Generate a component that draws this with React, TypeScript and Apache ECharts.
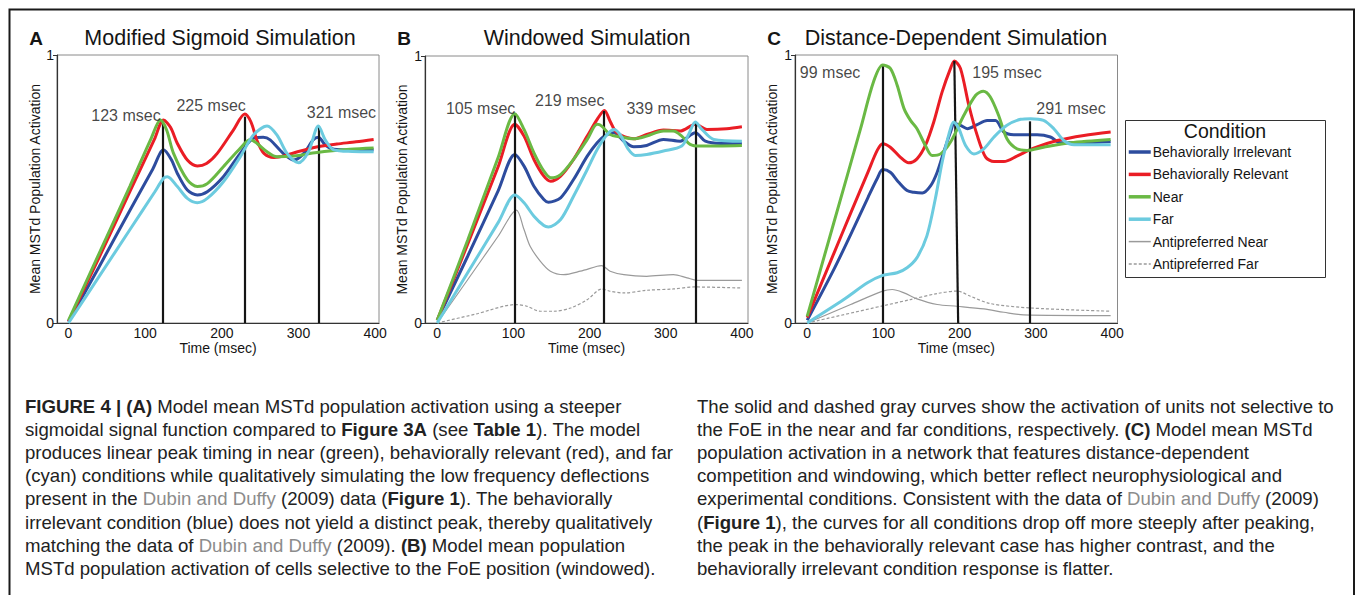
import React, { useEffect, useRef } from 'react';
import * as echarts from 'echarts';

// ---------- names / colours ----------
const SERIES_NAMES = ['Behaviorally Irrelevant', 'Behaviorally Relevant', 'Near', 'Far', 'Antipreferred Near', 'Antipreferred Far'];
const COLORS = ['#2d4c9e', '#ea1d25', '#6ab944', '#6ccbdf', '#9a9a9a', '#9a9a9a'];
const X_TICKS = [0, 100, 200, 300, 400];
const Y_TICKS = [0, 1];
const PANEL_TITLES = ['Modified Sigmoid Simulation', 'Windowed Simulation', 'Distance-Dependent Simulation'];
const PANEL_LETTERS = ['A', 'B', 'C'];

// ---------- Panel A (time msec, activation) ----------
const A_IRR = [[0,0.005],[40,0.21],[80,0.42],[110,0.575],[124,0.646],[134,0.61],[142,0.558],[155,0.496],[168,0.478],[181,0.49],[202,0.546],[224,0.633],[241,0.689],[254,0.693],[263,0.683],[280,0.633],[294,0.608],[307,0.633],[319,0.683],[326,0.693],[335,0.664],[346,0.648],[370,0.645],[398,0.646]];
const A_REL = [[0,0.005],[40,0.245],[80,0.49],[112,0.685],[124,0.757],[133,0.73],[142,0.67],[155,0.608],[168,0.586],[180,0.595],[194,0.633],[215,0.72],[230,0.78],[238,0.75],[246,0.68],[255,0.633],[268,0.618],[281,0.623],[300,0.64],[325,0.658],[350,0.668],[375,0.676],[398,0.685]];
const A_NEAR = [[0,0.01],[40,0.26],[80,0.51],[108,0.69],[120,0.757],[128,0.72],[137,0.633],[155,0.534],[168,0.509],[181,0.52],[202,0.583],[224,0.652],[237,0.685],[246,0.67],[259,0.639],[272,0.62],[294,0.623],[324,0.636],[367,0.648],[398,0.653]];
const A_FAR = [[0,0],[40,0.174],[80,0.348],[112,0.487],[124,0.54],[129,0.546],[142,0.509],[155,0.465],[168,0.449],[181,0.465],[202,0.527],[224,0.62],[241,0.701],[259,0.735],[272,0.701],[285,0.633],[300,0.598],[313,0.639],[326,0.735],[335,0.683],[346,0.646],[370,0.64],[398,0.639]];
const A_VLINES = [[122.5,0.751],[230.5,0.77],[326,0.733]];
const A_NOTES = [['123 msec',75,0.776],['225 msec',186,0.81],['321 msec',356,0.787]];

// ---------- Panel B ----------
const B_IRR = [[0,0.01],[40,0.25],[80,0.495],[102,0.631],[114,0.5875],[127,0.5125],[140,0.4625],[146,0.4525],[162,0.469],[179,0.5375],[197,0.625],[210,0.675],[219.5,0.7],[232,0.7125],[245,0.681],[258,0.66],[275,0.665],[297,0.6875],[319,0.681],[339,0.7125],[352,0.681],[372,0.6725],[400,0.6725]];
const B_REL = [[0,0.01],[40,0.295],[80,0.585],[102,0.744],[114,0.7],[127,0.6125],[140,0.55],[149,0.531],[162,0.55],[179,0.6125],[197,0.7],[210,0.7625],[219.5,0.796],[227,0.756],[236,0.7125],[258,0.69],[275,0.706],[297,0.7225],[319,0.719],[339,0.744],[354,0.725],[380,0.7275],[400,0.735]];
const B_NEAR = [[0,0.01],[40,0.31],[80,0.62],[102,0.784],[114,0.725],[127,0.6375],[140,0.569],[149,0.544],[162,0.556],[179,0.6125],[197,0.6875],[210,0.744],[216,0.7375],[227,0.706],[240,0.6975],[258,0.69],[275,0.7],[297,0.719],[310,0.719],[321,0.7],[332,0.669],[345,0.6625],[400,0.665]];
const B_FAR = [[0,0],[40,0.188],[80,0.376],[102,0.479],[114,0.45],[127,0.4],[140,0.365],[146,0.36],[162,0.3875],[179,0.475],[197,0.575],[210,0.65],[223,0.706],[232,0.725],[240,0.706],[251,0.65],[260,0.6275],[275,0.631],[297,0.644],[321,0.6625],[330,0.706],[339,0.7525],[347.5,0.725],[363,0.6875],[400,0.681]];
const B_ANTI_NEAR = [[0,0],[40,0.162],[80,0.325],[104,0.4225],[114,0.35],[122,0.2875],[135.5,0.231],[148.6,0.194],[166,0.181],[188,0.194],[210,0.2125],[216,0.215],[227,0.194],[245,0.181],[275,0.175],[310,0.181],[328,0.169],[341,0.16],[400,0.16]];
const B_ANTI_FAR = [[0,0],[50,0.033],[104,0.069],[118,0.0625],[135.5,0.044],[153,0.044],[175,0.056],[197,0.0875],[216,0.1275],[227,0.119],[245,0.1125],[275,0.1225],[310,0.1275],[337,0.135],[400,0.131]];
const B_VLINES = [[102,0.781],[219,0.794],[340,0.75]];
const B_NOTES = [['105 msec',57,0.802],['219 msec',174,0.832],['339 msec',294,0.802]];

// ---------- Panel C ----------
const C_IRR = [[0,0.01],[35,0.2],[57,0.33],[80,0.47],[92,0.54],[99,0.5725],[109,0.5625],[120,0.525],[131,0.494],[140,0.4875],[151,0.485],[162,0.5125],[170.5,0.5625],[179,0.6375],[188,0.7125],[193,0.744],[201,0.7375],[210,0.725],[223,0.74],[236,0.756],[247,0.756],[258,0.7125],[271,0.7025],[301.6,0.7025],[319,0.694],[332,0.6725],[363,0.6725],[398,0.6775]];
const C_REL = [[0,0.02],[35,0.26],[57,0.41],[80,0.565],[92,0.645],[99,0.669],[109,0.656],[122,0.619],[133,0.5975],[144,0.6125],[155,0.6625],[166,0.75],[177,0.8625],[188,0.95],[193,0.9775],[201,0.95],[212,0.8125],[223,0.7],[234,0.619],[245,0.6025],[258,0.6025],[275,0.6225],[297,0.6525],[328,0.681],[363,0.7],[398,0.7125]];
const C_NEAR = [[0,0.025],[35,0.375],[70,0.725],[87,0.9],[99,0.9625],[109,0.95],[118,0.8875],[127,0.8],[135.5,0.756],[144,0.725],[155,0.6625],[164,0.625],[175,0.631],[188,0.675],[205.5,0.775],[221,0.85],[231,0.865],[240,0.844],[251,0.775],[262,0.6875],[275,0.65],[288.5,0.644],[310,0.656],[345,0.6725],[398,0.685]];
const C_FAR = [[0,0],[48,0.0875],[79,0.15],[99,0.1775],[118,0.1875],[131,0.206],[144,0.244],[157,0.325],[168,0.4625],[177,0.6],[186,0.706],[192,0.75],[199,0.725],[207.7,0.6625],[218.6,0.631],[231.7,0.65],[245,0.694],[262,0.7375],[280,0.76],[293,0.7625],[310,0.756],[323.5,0.725],[336.6,0.681],[350,0.665],[398,0.665]];
const C_ANTI_NEAR = [[0,0],[57,0.069],[99,0.119],[111.5,0.125],[127,0.1125],[144,0.09],[170.5,0.069],[196.7,0.0625],[231.7,0.0525],[258,0.04],[284,0.03],[398,0.0275]];
const C_ANTI_FAR = [[0,0],[100.5,0.065],[135.5,0.0875],[170.5,0.11],[196.7,0.119],[214,0.1],[240,0.0725],[293,0.056],[398,0.044]];
const C_VLINES = [[99,0.9625],[193,0.9775,198],[292,0.7525]];
const C_NOTES = [['99 msec',30,0.933],['195 msec',262,0.933],['291 msec',346,0.802]];

// ---------- caption ----------
const CAPTION_LEFT = [
  '{b|FIGURE 4 | (A)} Model mean MSTd population activation using a steeper',
  'sigmoidal signal function compared to {b|Figure 3A} (see {b|Table 1}). The model',
  'produces linear peak timing in near (green), behaviorally relevant (red), and far',
  '(cyan) conditions while qualitatively simulating the low frequency deflections',
  'present in the {g|Dubin and Duffy} (2009) data ({b|Figure 1}). The behaviorally',
  'irrelevant condition (blue) does not yield a distinct peak, thereby qualitatively',
  'matching the data of {g|Dubin and Duffy} (2009). {b|(B)} Model mean population',
  'MSTd population activation of cells selective to the FoE position (windowed).',
];
const CAPTION_RIGHT = [
  'The solid and dashed gray curves show the activation of units not selective to',
  'the FoE in the near and far conditions, respectively. {b|(C)} Model mean MSTd',
  'population activation in a network that features distance-dependent',
  'competition and windowing, which better reflect neurophysiological and',
  'experimental conditions. Consistent with the data of {g|Dubin and Duffy} (2009)',
  '({b|Figure 1}), the curves for all conditions drop off more steeply after peaking,',
  'the peak in the behaviorally relevant case has higher contrast, and the',
  'behaviorally irrelevant condition response is flatter.',
];

const PANELS = [
  { curves: [A_IRR, A_REL, A_NEAR, A_FAR], vlines: A_VLINES, notes: A_NOTES },
  { curves: [B_IRR, B_REL, B_NEAR, B_FAR, B_ANTI_NEAR, B_ANTI_FAR], vlines: B_VLINES, notes: B_NOTES },
  { curves: [C_IRR, C_REL, C_NEAR, C_FAR, C_ANTI_NEAR, C_ANTI_FAR], vlines: C_VLINES, notes: C_NOTES },
];

// layout (pixels)
const GRIDS = [
  { left: 57, top: 55, width: 322, height: 268 },
  { left: 425, top: 56, width: 323, height: 267 },
  { left: 795, top: 55, width: 322.5, height: 268 },
];
const X_RANGES = [[-15, 405], [-16, 408], [-16, 407]];
const Y_NAME_GAPS = [13, 16, 16];
const TITLE_POS = [[220, 38], [587, 38], [956, 38]];
const LETTER_POS = [[36, 38], [404, 38], [774, 38]];

const FONT = '"Liberation Sans", Arial, Helvetica, sans-serif';
const INK = '#151515';
const CAP_SIZE = 18.6;

function buildOption() {
  const series: any[] = [];
  PANELS.forEach((p, i) => {
    p.curves.forEach((data, k) => {
      const gray = k >= 4;
      series.push({
        type: 'line',
        name: SERIES_NAMES[k],
        xAxisIndex: i,
        yAxisIndex: i,
        data,
        symbol: 'none',
        showSymbol: false,
        smooth: 0.3,
        silent: true,
        z: gray ? 2 : 3 + k,
        itemStyle: { color: COLORS[k] },
        lineStyle: { color: COLORS[k], width: gray ? 1.2 : 3, type: k === 5 ? [3, 2] : 'solid' },
      });
    });
    series.push({
      type: 'scatter',
      name: 'notes' + i,
      xAxisIndex: i,
      yAxisIndex: i,
      symbolSize: 1,
      silent: true,
      z: 20,
      itemStyle: { color: 'rgba(0,0,0,0)' },
      data: p.notes.map(([txt, t, v]) => ({ value: [t, v], label: { formatter: txt as string } })),
      label: { show: true, position: 'inside', fontSize: 16, color: INK, fontFamily: FONT },
      markLine: {
        silent: true,
        symbol: ['none', 'none'],
        label: { show: false },
        lineStyle: { color: INK, width: 2.2, type: 'solid' },
        data: p.vlines.map((vl) => [
          { coord: [vl[0], vl[1]] },
          { coord: [vl.length > 2 ? vl[2] : vl[0], 0] },
        ]),
      },
    });
  });

  const graphic: any[] = [];
  graphic.push({
    type: 'rect',
    shape: { x: 9.5, y: 9.5, width: 1344.5, height: 700 },
    style: { fill: 'none', stroke: '#1a1a1a', lineWidth: 2 },
    silent: true,
  });
  PANEL_TITLES.forEach((t, i) => {
    graphic.push({
      type: 'text', x: TITLE_POS[i][0], y: TITLE_POS[i][1],
      style: { text: t, fontSize: 21.5, fontFamily: FONT, fill: INK, align: 'center', verticalAlign: 'middle' },
    });
    graphic.push({
      type: 'text', x: LETTER_POS[i][0], y: LETTER_POS[i][1],
      style: { text: PANEL_LETTERS[i], fontSize: 19, fontWeight: 'bold', fontFamily: FONT, fill: INK, align: 'center', verticalAlign: 'middle' },
    });
  });
  // legend box + title
  graphic.push({
    type: 'rect', shape: { x: 1125.5, y: 120.5, width: 200, height: 157 },
    style: { fill: 'none', stroke: '#333', lineWidth: 1 }, silent: true,
  });
  graphic.push({
    type: 'text', x: 1225, y: 131,
    style: { text: 'Condition', fontSize: 19.5, fontFamily: FONT, fill: INK, align: 'center', verticalAlign: 'middle' },
  });

  const rich = {
    b: { fontWeight: 'bold', fontSize: CAP_SIZE, fontFamily: FONT, fill: '#222' },
    g: { fontSize: CAP_SIZE, fontFamily: FONT, fill: '#8c8c8c' },
  };
  const addCaption = (lines: string[], x0: number) => {
    lines.forEach((ln, j) => {
      graphic.push({
        type: 'text', x: x0, y: 406 + j * 23.2,
        style: { text: ln, rich, fontSize: CAP_SIZE, fontFamily: FONT, fill: '#222', align: 'left', verticalAlign: 'middle' },
      });
    });
  };
  addCaption(CAPTION_LEFT, 25);
  addCaption(CAPTION_RIGHT, 697);

  return {
    animation: false,
    backgroundColor: '#ffffff',
    textStyle: { fontFamily: FONT },
    grid: GRIDS.map((g) => ({ ...g, show: true, borderColor: '#8a8a8a', borderWidth: 1, backgroundColor: 'transparent' })),
    xAxis: GRIDS.map((_, i) => ({
      type: 'value', gridIndex: i, min: X_RANGES[i][0], max: X_RANGES[i][1],
      axisLine: { show: true, onZero: false, lineStyle: { color: '#333', width: 1.2 } },
      axisTick: { show: false },
      splitLine: { show: false },
      axisLabel: { customValues: X_TICKS, fontSize: 14, color: INK, margin: 3, fontFamily: FONT },
      name: 'Time (msec)', nameLocation: 'middle', nameGap: 12,
      nameTextStyle: { fontSize: 14, color: INK, fontFamily: FONT },
    })),
    yAxis: GRIDS.map((_, i) => ({
      type: 'value', gridIndex: i, min: 0, max: 1, interval: 1,
      axisLine: { show: true, onZero: false, lineStyle: { color: '#333', width: 1.2 } },
      axisTick: { show: true, length: 4, lineStyle: { color: '#333' } },
      splitLine: { show: false },
      axisLabel: { fontSize: 14, color: INK, margin: 3, fontFamily: FONT, customValues: Y_TICKS },
      name: 'Mean MSTd Population Activation', nameLocation: 'middle', nameGap: Y_NAME_GAPS[i],
      nameTextStyle: { fontSize: 14, color: INK, fontFamily: FONT },
    })),
    legend: {
      data: SERIES_NAMES.map((n, k) => ({
        name: n,
        lineStyle: { width: k < 4 ? 3.5 : 1.5, color: COLORS[k], type: k === 5 ? [3, 2] : 'solid' },
      })),
      orient: 'vertical',
      left: 1127, top: 145,
      itemWidth: 22, itemHeight: 14, itemGap: 8.4,
      padding: 0,
      selectedMode: false,
      itemStyle: { color: 'rgba(0,0,0,0)', borderColor: 'rgba(0,0,0,0)', borderWidth: 0, opacity: 0 },
      textStyle: { fontSize: 14, color: INK, fontFamily: FONT, padding: [0, 0, 0, -3] },
    },
    graphic,
    series,
  };
}

export default function App() {
  const ref = useRef<HTMLDivElement>(null);
  useEffect(() => {
    if (!ref.current) return;
    const chart = echarts.init(ref.current, null, { renderer: 'svg' });
    chart.setOption(buildOption() as any);
    return () => chart.dispose();
  }, []);
  return (
    <div
      ref={ref}
      style={{ position: 'absolute', left: 0, top: 0, width: 1355, height: 595, background: '#fff' }}
    />
  );
}
